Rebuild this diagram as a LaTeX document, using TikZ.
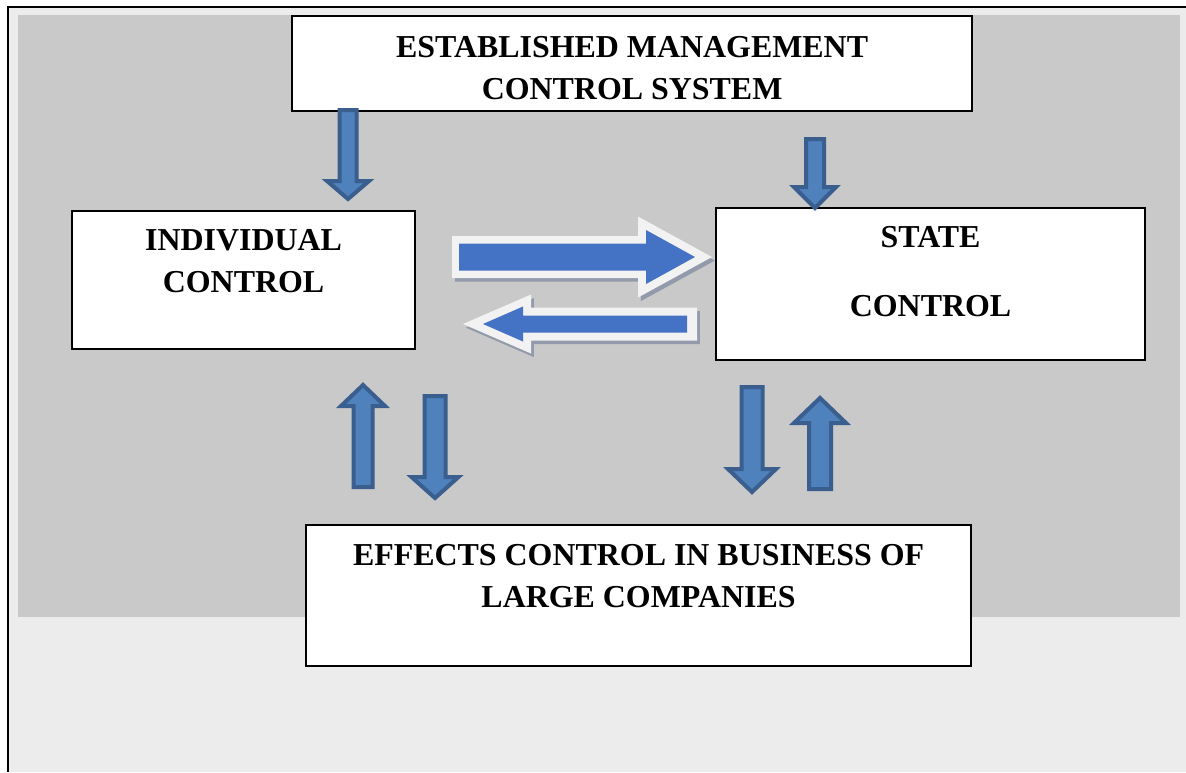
\documentclass[tikz,border=0pt]{standalone}
\usepackage{fontspec}
\setmainfont{Liberation Serif}
\usetikzlibrary{positioning}

\definecolor{paleback}{HTML}{ECECEC}
\definecolor{panelgrey}{HTML}{C9C9C9}
\definecolor{vfill}{HTML}{4F81BD}
\definecolor{vedge}{HTML}{3A5F8E}
\definecolor{hfill}{HTML}{4472C4}
\definecolor{hedge}{HTML}{F2F2F2}
\definecolor{hshade}{HTML}{6E7B97}

% [style] centre x, tail y, head base y, tip y, half shaft, half head
\newcommand{\vblockarrow}[7][]{%
  \draw[#1] (#2-#6,#3) -- (#2+#6,#3) -- (#2+#6,#4) -- (#2+#7,#4) -- (#2,#5)
    -- (#2-#7,#4) -- (#2-#6,#4) -- cycle;}
% [style] centre y, tail x, head base x, tip x, half shaft, half head
\newcommand{\hblockarrow}[7][]{%
  \draw[#1] (#3,#2-#6) -- (#4,#2-#6) -- (#4,#2-#7) -- (#5,#2) -- (#4,#2+#7)
    -- (#4,#2+#6) -- (#3,#2+#6) -- cycle;}

\begin{document}
\begin{tikzpicture}[x=0.025cm, y=-0.025cm,
    box/.style={draw, line width=0.05cm, fill=white, inner sep=0pt, anchor=north west},
    boxtext/.style={font=\bfseries\fontsize{22.7pt}{29.9pt}\selectfont, align=center, inner sep=0pt, anchor=north},
    vblock/.style={fill=vfill, draw=vedge, line width=0.1cm},
    hborder/.style={fill=hedge, draw=none},
    hcore/.style={fill=hfill, draw=none},
    hshadow/.style={fill=hshade, draw=none, opacity=0.6, xshift=0.07cm, yshift=-0.09cm}]
                \useasboundingbox (0,0) rectangle (1186,772);
                \fill[white] (0,0) rectangle (1186,772);
                \fill[paleback] (8,7) rectangle (1186,772);
                \fill[panelgrey] (18,15) rectangle (1180,617);
                \draw[line width=0.06cm] (8,772) -- (8,7) -- (1186,7);
                % boxes
                \node[box, minimum width=17cm, minimum height=2.375cm] (ems) at (291,15) {};
                \node[box, minimum width=8.575cm, minimum height=3.45cm] (ind) at (71,210) {};
                \node[box, minimum width=10.725cm, minimum height=3.8cm] (sta) at (715,207) {};
                \node[box, minimum width=16.625cm, minimum height=3.525cm] (eff) at (305,524) {};
                \node[boxtext, below=0.525cm of ems.north] (emstext) {ESTABLISHED MANAGEMENT\\CONTROL SYSTEM};
                \node[boxtext, below=0.475cm of ind.north] (indtext) {INDIVIDUAL\\CONTROL};
                \node[boxtext, below=0.475cm of sta.north] (statext) {STATE\\[19.2pt]CONTROL};
                \node[boxtext, below=0.5cm of eff.north] (efftext) {EFFECTS CONTROL IN BUSINESS OF\\LARGE COMPANIES};
                % vertical arrows
                \vblockarrow[vblock]{348}{110}{181}{199}{8.5}{21}
                \vblockarrow[vblock]{815}{139}{187}{208}{9}{21}
                \vblockarrow[vblock]{363}{487}{406}{385}{9.5}{22}
                \vblockarrow[vblock]{435}{396}{477}{498}{10.5}{23.5}
                \vblockarrow[vblock]{752}{387}{469}{492}{10.5}{24}
                \vblockarrow[vblock]{820}{489}{423}{398}{11}{26}
                % horizontal arrows
                \hblockarrow[hshadow]{257}{452}{638}{712}{21}{40.5}
                \hblockarrow[hborder]{257}{452}{638}{712}{21}{40.5}
                \hblockarrow[hcore]{257}{459}{646}{695}{13.5}{27}
                \hblockarrow[hshadow]{324}{697}{531}{463}{16.5}{29.5}
                \hblockarrow[hborder]{324}{697}{531}{463}{16.5}{29.5}
                \hblockarrow[hcore]{324}{687}{523}{483}{8.5}{17.5}
            \end{tikzpicture}
\end{document}
